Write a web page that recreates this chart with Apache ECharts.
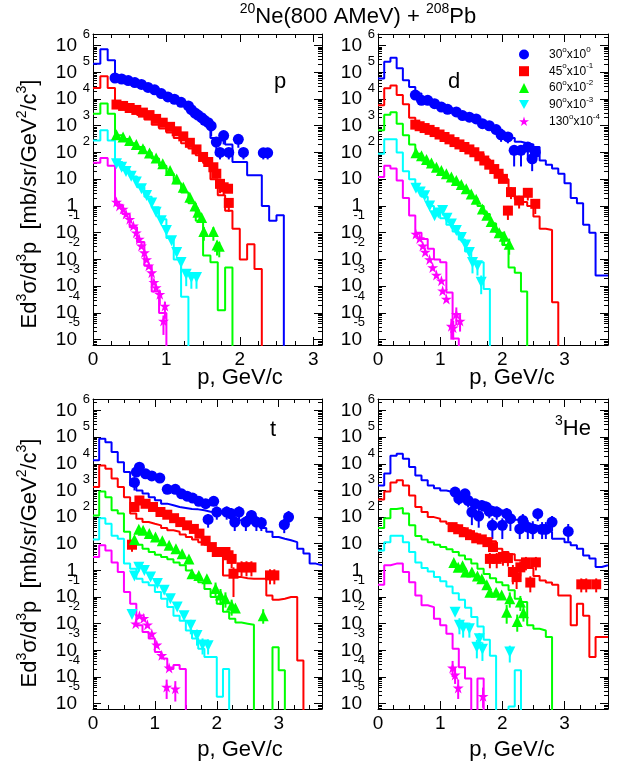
<!DOCTYPE html>
<html><head><meta charset="utf-8">
<script src="https://cdn.jsdelivr.net/npm/echarts@6/dist/echarts.min.js"></script>
<style>html,body{margin:0;padding:0;background:#fff}#c{width:630px;height:767px}</style>
</head><body><div id="c"></div>
<script>
// ================= DATA =================
const angleLabels = ['30', '45', '60', '90', '130'];
const scaleExps = ['0', '-1', '-2', '-3', '-4'];
const panelLabels = ['p', 'd', 't', '3He'];
const xTickLabels = [0, 1, 2, 3];
const binWidth = 0.1; // GeV/c, histograms start at p = 0; 0 = empty bin

// ---- protons (p) : model histograms ----
const simP30 = [2.1e5, 7.2e5, 2.8e5, 7.1e4, 5.2e4, 4.2e4, 3.3e4, 2.6e4, 2.0e4, 1.5e4, 1.1e4, 8.3e3, 6.0e3, 4.0e3, 2.5e3, 1.4e3, 350, 280, 200, 44, 44, 14, 14, 1.0, 0.28, 0.45];
const simP45 = [2.6e4, 7.1e4, 2.6e4, 5.8e3, 4.8e3, 3.5e3, 2.5e3, 1.7e3, 1.1e3, 790, 560, 350, 220, 140, 79, 40, 10, 2.5, 0.66, 0.14, 0.01, 0.037, 0.0044];
const simP60 = [2.8e3, 6.8e3, 2.8e3, 440, 320, 220, 160, 100, 60, 32, 16, 7.1, 3.2, 1.26, 0.28, 0.014, 0.0079, 1.26e-4, 0.005];
const simP90 = [280, 680, 280, 44, 22, 12.6, 5.0, 2.2, 0.89, 0.32, 0.063, 0.01, 4e-4];
const simP130 = [41, 62, 32, 1.12, 0.5, 0.16, 0.045, 0.0058, 6.3e-4, 1e-4];
// ---- protons : measured points [p, value] and error bars [p, low, high] ----
const datP30 = [[0.30,6.1e4],[0.39,5.6e4],[0.48,4.9e4],[0.57,4.1e4],[0.66,3.5e4],[0.75,2.7e4],[0.84,2.2e4],[0.93,1.6e4],[1.02,1.2e4],[1.11,9.8e3],[1.20,7.5e3],[1.30,5.5e3],[1.34,4.0e3],[1.39,3.0e3],[1.43,2.5e3],[1.48,2.0e3],[1.52,1.6e3],[1.57,1.3e3],[1.61,980],[1.68,245],[1.73,100],[1.78,430],[1.85,100],[1.98,310],[2.05,100],[2.32,97],[2.38,97]];
const datP45 = [[0.32,6.2e3],[0.41,5.5e3],[0.50,4.6e3],[0.59,3.9e3],[0.68,3.1e3],[0.77,2.5e3],[0.86,1.8e3],[0.95,1.3e3],[1.05,910],[1.14,620],[1.23,400],[1.32,230],[1.41,130],[1.50,68],[1.57,44],[1.64,28],[1.68,16],[1.73,6.7],[1.78,5.0],[1.84,4.4],[1.85,1.3]];
const datP60 = [[0.32,460],[0.41,380],[0.50,280],[0.59,200],[0.68,138],[0.77,95],[0.86,62],[0.95,38],[1.05,21],[1.14,10.2],[1.23,5.0],[1.32,2.1],[1.39,1.0],[1.43,0.58],[1.48,0.37],[1.51,0.11],[1.64,0.11],[1.69,0.035],[1.72,0.031]];
const datP90 = [[0.32,38],[0.39,28],[0.45,19.5],[0.52,13],[0.59,7.8],[0.66,4.4],[0.73,2.45],[0.80,1.3],[0.86,0.58],[0.93,0.28],[1.0,0.12],[1.07,0.05],[1.14,0.018],[1.20,0.0077],[1.27,0.0028],[1.34,0.0021],[1.41,0.0021]];
const datP130 = [[0.32,1.4],[0.36,1.0],[0.41,0.77],[0.45,0.5],[0.50,0.32],[0.55,0.18],[0.59,0.10],[0.63,0.058],[0.66,0.032],[0.70,0.018],[0.73,0.010],[0.76,0.0058],[0.80,0.0032],[0.83,0.0014],[0.86,8.9e-4],[0.91,5e-4],[0.98,1.8e-4],[0.96,5e-5]];
const errP30 = [[1.61,400,1.2e3],[1.68,78,330],[1.73,55,130],[1.78,200,560],[1.85,55,130],[1.98,150,400],[2.05,55,130],[2.32,55,125],[2.38,55,125]];
const errP45 = [[1.73,3.0,9],[1.78,2.5,6.5],[1.85,0.6,1.8]];
const errP60 = [[1.51,0.05,0.16],[1.64,0.05,0.16],[1.69,0.014,0.05],[1.72,0.012,0.045]];
const errP90 = [[1.20,0.003,0.012],[1.27,0.001,0.004],[1.34,8e-4,0.003],[1.41,8e-4,0.003]];
const errP130 = [[0.91,2e-4,7e-4],[0.98,6e-5,2.6e-4],[0.96,1.5e-5,8e-5]];

// ---- deuterons (d) ----
const simD30 = [5.8e4, 2.5e5, 3.5e5, 1.4e5, 5.0e4, 2.8e4, 1.6e4, 1.1e4, 8.9e3, 7.1e3, 5.6e3, 4.5e3, 3.5e3, 2.8e3, 2.2e3, 1.8e3, 1.4e3, 1.1e3, 890, 710, 500, 350, 250, 220, 200, 160, 50, 35, 25, 16, 7.1, 2.0, 1.26, 0.2, 0.1, 0.0025, 0.0025];
const simD45 = [5.8e3, 2.5e4, 3.2e4, 1.4e4, 6.3e3, 2.0e3, 1.0e3, 790, 630, 500, 400, 320, 250, 200, 160, 110, 89, 56, 28, 18, 10, 3.2, 1.8, 1.4, 1.0, 0.4, 0.14, 0.126, 2.5e-4];
const simD60 = [680, 2.6e3, 3.2e3, 1.2e3, 440, 200, 89, 50, 32, 22, 16, 11, 7.9, 5.0, 3.5, 2.0, 1.0, 0.5, 0.22, 0.1, 0.035, 0.005, 0.0032, 6.3e-4];
const simD90 = [89, 310, 310, 100, 20, 10, 4.5, 2.2, 1.0, 0.56, 0.35, 0.2, 0.11, 0.056, 0.02, 0.0078, 0.0078, 7.9e-4];
const simD130 = [12, 32, 25, 8.9, 2.0, 0.44, 0.1, 0.058, 0.025, 0.01, 0.0078, 5.8e-4, 1.1e-5];
const datD30 = [[0.60,1.4e4],[0.70,8.9e3],[0.80,8.9e3],[0.91,6.7e3],[1.02,5.0e3],[1.12,4.1e3],[1.26,3.3e3],[1.36,2.4e3],[1.47,2.1e3],[1.58,1.8e3],[1.68,1.2e3],[1.79,1.0e3],[1.90,720],[1.98,460],[2.09,380],[2.19,120],[2.30,120],[2.41,160],[2.48,58],[2.53,102]];
const datD45 = [[0.60,1.1e3],[0.67,960],[0.75,820],[0.83,700],[0.91,580],[0.99,470],[1.07,380],[1.15,310],[1.23,245],[1.31,200],[1.39,160],[1.47,130],[1.55,102],[1.63,72],[1.71,50],[1.79,35],[1.87,24],[1.94,16],[2.01,10.3],[2.14,3.3],[2.09,0.67],[2.27,1.6],[2.41,3.1],[2.53,1.2]];
const datD60 = [[0.61,98],[0.70,75],[0.78,55],[0.86,40],[0.94,28],[1.02,21],[1.10,16],[1.18,12],[1.26,8.9],[1.34,6.3],[1.42,4.4],[1.50,2.8],[1.58,1.8],[1.68,0.77],[1.75,0.45],[1.82,0.26],[1.88,0.16],[1.95,0.10],[2.03,0.073],[2.11,0.037]];
const datD90 = [[0.61,4.6],[0.68,3.3],[0.75,2.4],[0.83,1.0],[0.91,0.43],[0.97,0.55],[1.04,0.67],[1.11,0.35],[1.18,0.21],[1.26,0.12],[1.34,0.066],[1.41,0.035],[1.47,0.018],[1.52,0.0077],[1.60,0.0058],[1.66,0.0014]];
const datD130 = [[0.61,0.089],[0.67,0.061],[0.72,0.032],[0.76,0.019],[0.83,0.010],[0.88,0.005],[0.94,0.0026],[1.02,0.0016],[1.04,6.7e-4],[1.10,3.3e-4],[1.18,3.2e-5],[1.21,2.8e-5],[1.26,8.9e-5],[1.32,5e-5]];
const errD30 = [[1.98,250,600],[2.09,220,500],[2.19,30,180],[2.30,30,180],[2.41,50,230],[2.48,20,85],[2.53,40,150]];
const errD45 = [[2.09,0.3,1.0],[2.14,1.8,5],[2.27,0.8,2.4],[2.41,1.6,4.5],[2.53,0.5,1.8]];
const errD60 = [[2.03,0.035,0.11],[2.11,0.015,0.06]];
const errD90 = [[1.52,0.003,0.012],[1.60,0.0025,0.009],[1.66,5e-4,0.0025]];
const errD130 = [[1.18,1e-5,6e-5],[1.21,1e-5,5e-5],[1.26,3.5e-5,1.6e-4],[1.32,2e-5,9e-5]];

// ---- tritons (t) ----
const simT30 = [1.35e4, 8.7e4, 6.5e4, 2.8e4, 1.15e4, 4.9e3, 1.55e3, 1.0e3, 760, 560, 430, 320, 280, 240, 220, 200, 195, 180, 160, 155, 135, 115, 91, 76, 65, 56, 49, 39, 28, 18, 15.5, 13.5, 11.5, 6.5, 4.3, 1.8, 1.55];
const simT45 = [1.35e3, 8.7e3, 6.5e3, 2.8e3, 1.35e3, 560, 135, 87, 65, 56, 49, 39, 32, 28, 22, 18, 14.5, 11.5, 9.1, 6.9, 4.9, 0.65, 0.56, 0.56, 0.51, 0.49, 0.49, 0.49, 0.115, 0.079, 0.087, 0.1, 0.1, 4.2e-4];
const simT60 = [115, 910, 560, 180, 135, 28, 11.5, 9.1, 6.5, 4.9, 3.9, 3.2, 2.6, 2.0, 1.55, 1.0, 0.65, 0.36, 0.2, 0.1, 0.056, 0.028, 0.0155, 0.011, 0.01, 0.0091, 0, 0, 0, 0.0013, 1.8e-4];
const simT90 = [14.5, 91, 56, 20, 15.5, 1.8, 1.15, 0.49, 0.36, 0.28, 0.155, 0.087, 0.042, 0.02, 0.013, 0.0056, 0.0028, 0.00115, 5.6e-4, 5.6e-4, 1.8e-5, 2.0e-4];
const simT130 = [3.2, 8.7, 5.6, 2.0, 0.87, 0.155, 0.056, 0.0087, 0.0049, 0.0028, 8.7e-4, 4.9e-4, 2.0e-4, 2.8e-4, 2.0e-4];
const datT30 = [[0.67,2.0e3],[0.70,4.9e3],[0.75,7.5e3],[0.85,4.2e3],[0.95,3.5e3],[1.08,2.9e3],[1.20,1.1e3],[1.33,1.1e3],[1.43,750],[1.52,610],[1.61,520],[1.71,390],[1.82,320],[1.95,390],[1.86,82],[2.0,155],[2.16,155],[2.23,135],[2.29,65],[2.36,155],[2.47,65],[2.56,115],[2.64,65],[2.72,62],[3.09,52],[3.16,100]];
const datT45 = [[0.63,9.2],[0.67,240],[0.75,420],[0.85,316],[0.97,240],[1.09,155],[1.20,123],[1.31,91],[1.41,65],[1.52,49],[1.63,36],[1.72,24],[1.82,13],[1.92,7.5],[2.0,4.9],[2.14,4.9],[2.19,3.7],[2.24,2.7],[2.27,0.75],[2.40,1.3],[2.48,1.3],[2.56,1.3],[2.86,0.65],[2.93,0.65]];
const datT60 = [[0.67,14.5],[0.74,35],[0.81,32],[0.91,24],[1.01,18],[1.12,13],[1.23,8.7],[1.34,6.5],[1.44,4.2],[1.55,2.7],[1.60,0.75],[1.71,0.65],[1.84,0.49],[1.98,0.21],[2.06,0.12],[2.14,0.087],[2.24,0.049],[2.30,0.039],[2.75,0.020]];
const datT90 = [[0.63,0.022],[0.67,0.61],[0.74,1.3],[0.83,1.0],[0.93,0.56],[1.04,0.32],[1.15,0.18],[1.25,0.087],[1.36,0.042],[1.47,0.020],[1.58,0.0087],[1.68,0.0036],[1.77,0.0016],[1.86,0.0015]];
const datT130 = [[0.69,0.010],[0.75,0.020],[0.82,0.016],[0.88,0.0091],[0.95,0.0042],[1.03,0.0016],[1.11,6.5e-4],[1.23,2.2e-4],[1.19,4.2e-5],[1.33,3.6e-5]];
const errT30 = [[0.67,1.0e3,3.0e3],[1.86,40,130],[2.0,80,250],[2.16,80,250],[2.23,60,220],[2.29,30,110],[2.36,80,250],[2.47,30,110],[2.56,60,180],[2.64,30,110],[2.72,30,100],[3.09,25,85],[3.16,50,170]];
const errT45 = [[0.63,5,14],[2.14,2.5,7.5],[2.19,1.8,6],[2.24,1.2,4.5],[2.27,0.1,1.3],[2.40,0.6,2.2],[2.48,0.6,2.2],[2.56,0.6,2.2],[2.86,0.3,1.1],[2.93,0.3,1.1]];
const errT60 = [[1.98,0.1,0.35],[2.06,0.05,0.2],[2.14,0.04,0.15],[2.24,0.02,0.08],[2.75,0.01,0.035]];
const errT90 = [[1.58,0.004,0.014],[1.68,0.0015,0.006],[1.77,7e-4,0.0028],[1.86,7e-4,0.0026]];
const errT130 = [[1.19,1.5e-5,8e-5],[1.33,1.2e-5,7e-5]];

// ---- helium-3 (3He) ----
const simH30 = [1.55e3, 4.3e3, 2.0e4, 2.4e4, 1.55e4, 7.6e3, 3.6e3, 2.4e3, 1.55e3, 1.2e3, 1.0e3, 870, 690, 510, 430, 350, 290, 260, 220, 180, 126, 100, 79, 63, 52, 45, 43, 28, 15.5, 15.5, 11.5, 8.7, 6.5, 3.6, 2.8, 1.35, 1.55];
const simH45 = [460, 910, 2.0e3, 2.4e3, 1.55e3, 650, 240, 155, 100, 87, 69, 56, 49, 39, 32, 24, 19.5, 15.5, 12.3, 6.5, 4.9, 4.0, 2.4, 2.2, 1.23, 0.62, 0.42, 0.35, 0.29, 0.115, 0.115, 0.0087, 0.056, 0.02, 5.6e-4, 0.0032, 0.0032];
const simH60 = [39, 91, 200, 220, 135, 49, 19.5, 14.5, 11.5, 9.1, 7.6, 6.2, 4.9, 3.6, 2.6, 1.8, 1.15, 0.74, 0.51, 0.36, 0.28, 0.18, 0.087, 0.065, 0.0087, 0.0065, 0.0056, 0.0032];
const simH90 = [5.6, 11.5, 20, 20, 11.5, 4.9, 2.0, 1.23, 0.91, 0.56, 0.39, 0.25, 0.14, 0.079, 0.04, 0.018, 0.0079, 0.0025, 6.3e-4, 0, 0, 7.9e-6, 1.8e-4];
const simH130 = [0.29, 1.55, 1.8, 1.8, 0.87, 0.36, 0.115, 0.049, 0.042, 0.0155, 0.0087, 0.0042, 0.00115, 2.3e-4, 8.7e-5, 0, 8.7e-5];
const datH30 = [[1.24,870],[1.30,490],[1.40,750],[1.45,420],[1.51,155],[1.56,316],[1.62,110],[1.67,275],[1.74,240],[1.79,163],[1.84,49],[1.91,155],[2.0,49],[2.07,134],[2.13,87],[2.28,36],[2.33,75],[2.41,42],[2.49,36],[2.57,134],[2.64,35],[2.70,35],[2.80,65],[3.06,29]];
const datH45 = [[1.20,42],[1.29,35],[1.38,27],[1.48,21],[1.58,16],[1.67,14.5],[1.76,11.5],[1.85,7.5],[1.80,2.7],[1.91,2.7],[2.01,3.2],[2.09,2.9],[2.17,0.87],[2.23,0.56],[2.29,1.3],[2.38,2.0],[2.45,0.35],[2.54,2.0],[3.27,0.30],[3.35,0.30],[3.51,0.30]];
const datH60 = [[1.22,2.0],[1.29,1.3],[1.36,1.5],[1.41,0.87],[1.51,0.87],[1.60,0.61],[1.67,0.49],[1.75,0.29],[1.80,0.15],[1.90,0.15],[1.99,0.12],[2.12,0.087],[2.07,0.027],[2.24,0.012],[2.29,0.065],[2.34,0.026]];
const datH90 = [[1.24,0.027],[1.31,0.0087],[1.37,0.0069],[1.47,0.0065],[1.59,0.0013],[1.63,0.0027],[1.68,0.0011],[2.12,8.7e-4]];
const datH130 = [[1.20,2.2e-4],[1.24,1.2e-4],[1.29,3.9e-5],[1.69,1.9e-5]];
const errH30 = [[1.24,500,1.3e3],[1.30,280,800],[1.40,450,1.1e3],[1.45,230,650],[1.51,50,300],[1.56,180,480],[1.62,40,200],[1.67,160,420],[1.74,130,380],[1.79,90,260],[1.84,15,90],[1.91,80,250],[2.0,15,90],[2.07,70,220],[2.13,30,150],[2.28,15,70],[2.33,35,130],[2.41,15,75],[2.49,15,70],[2.57,70,210],[2.64,15,65],[2.70,15,65],[2.80,30,110],[3.06,12,55]];
const errH45 = [[1.80,1.2,4.5],[1.91,1.2,4.5],[2.01,1.5,5],[2.09,1.4,4.8],[2.17,0.3,1.6],[2.23,0.2,1.0],[2.29,0.6,2.2],[2.38,1.0,3.2],[2.45,0.15,0.6],[2.54,1.0,3.2],[3.27,0.15,0.5],[3.35,0.15,0.5],[3.51,0.15,0.5]];
const errH60 = [[2.07,0.01,0.05],[2.12,0.04,0.15],[2.24,0.005,0.022],[2.29,0.03,0.11],[2.34,0.012,0.045]];
const errH90 = [[1.31,0.004,0.016],[1.37,0.003,0.012],[1.47,0.003,0.011],[1.59,5e-4,0.0025],[1.63,0.0012,0.0045],[1.68,4e-4,0.002],[2.12,3.5e-4,0.0015]];
const errH130 = [[1.20,1e-4,4e-4],[1.24,5.5e-5,2.4e-4],[1.29,1.5e-5,8e-5],[1.69,7e-6,4e-5]];

// ================= LAYOUT / STYLE =================
const FF = '"Liberation Sans", Arial, Helvetica, sans-serif';
const YMIN = 6.3e-6, YMAX = 2.7e6;
const FLOOR = 1e-12;
const colors = ['#0000ff', '#ff0000', '#00ff00', '#00ffff', '#ff00ff'];
const INV_TRI = 'path://M0,0 L10,0 L5,9 Z';
const STAR = 'path://M10,0 L12.25,6.91 L19.51,6.91 L13.63,11.18 L15.88,18.09 L10,13.82 L4.12,18.09 L6.37,11.18 L0.49,6.91 L7.75,6.91 Z';
const symbols = ['circle', 'rect', 'triangle', INV_TRI, STAR];
const symSizes = [11, 10, 11, 11, 11];
const seriesNames = angleLabels.map((a, k) => a + '°x10^' + scaleExps[k]);

const panels = [
  { grid: { left: 93, top: 34, width: 229, height: 311 }, xMax: 3.12, sims: [simP30, simP45, simP60, simP90, simP130], dats: [datP30, datP45, datP60, datP90, datP130], errs: [errP30, errP45, errP60, errP90, errP130] },
  { grid: { left: 378, top: 34, width: 230, height: 311 }, xMax: 3.7, sims: [simD30, simD45, simD60, simD90, simD130], dats: [datD30, datD45, datD60, datD90, datD130], errs: [errD30, errD45, errD60, errD90, errD130] },
  { grid: { left: 93, top: 399, width: 229, height: 310 }, xMax: 3.7, sims: [simT30, simT45, simT60, simT90, simT130], dats: [datT30, datT45, datT60, datT90, datT130], errs: [errT30, errT45, errT60, errT90, errT130] },
  { grid: { left: 378, top: 399, width: 230, height: 310 }, xMax: 3.7, sims: [simH30, simH45, simH60, simH90, simH130], dats: [datH30, datH45, datH60, datH90, datH130], errs: [errH30, errH45, errH60, errH90, errH130] }
];

// tick / label positions (axis decoration only)
const yDecades = []; for (let n = -5; n <= 6; n++) yDecades.push(Number('1e' + n));
const yMinors = [];
for (let n = -6; n <= 6; n++) for (let m = 2; m <= 9; m++) { const v = Number(m + 'e' + n); if (v > YMIN && v < YMAX) yMinors.push(v); }
// exponents are drawn slightly above their decade tick, as ROOT does
const EXP_UP_POS = Math.pow(10, 0.40), EXP_UP_NEG = Math.pow(10, 0.63);
const expPosAt = [2, 3, 4, 5, 6].map(n => Number('1e' + n) * EXP_UP_POS);
const expNegAt = [-5, -4, -3, -2, -1].map(n => Number('1e' + n) * EXP_UP_NEG);

function histData(vals, xMax) {
  const pts = [];
  for (let i = 0; i < vals.length; i++) pts.push([+(i * binWidth).toFixed(2), vals[i] > 0 ? vals[i] : FLOOR]);
  const end = +(vals.length * binWidth).toFixed(2);
  const last = vals[vals.length - 1];
  pts.push([Math.min(end, xMax), last > 0 ? last : FLOOR]);
  if (end < xMax - 1e-6) pts.push([end, FLOOR]);
  return pts;
}

const lineBlack = { color: '#000', width: 1 };
const grids = [], xAxes = [], yAxes = [], series = [];
panels.forEach((P, pi) => {
  grids.push(Object.assign({ containLabel: false, outerBoundsMode: 'none' }, P.grid));
  const xMajor = xTickLabels.filter(v => v <= P.xMax);
  const xMinor = [];
  for (let q = 0.25; q < P.xMax - 1e-9; q += 0.25) if (Math.abs(q - Math.round(q)) > 1e-9) xMinor.push(+q.toFixed(2));
  const xBase = { gridIndex: pi, type: 'value', min: 0, max: P.xMax, splitLine: { show: false }, axisPointer: { show: false } };
  xAxes.push(Object.assign({}, xBase, { position: 'bottom', axisLine: { show: true, onZero: false, lineStyle: lineBlack },
    axisTick: { show: true, inside: true, length: 8, customValues: xMajor, lineStyle: lineBlack },
    axisLabel: { show: true, customValues: xMajor, color: '#000', fontSize: 19, fontFamily: FF, margin: 5, showMinLabel: true, showMaxLabel: true } }));
  xAxes.push(Object.assign({}, xBase, { position: 'bottom', axisLine: { show: false, onZero: false },
    axisTick: { show: true, inside: true, length: 4, customValues: xMinor, lineStyle: lineBlack }, axisLabel: { show: false } }));
  xAxes.push(Object.assign({}, xBase, { position: 'top', axisLine: { show: true, onZero: false, lineStyle: lineBlack },
    axisTick: { show: true, inside: true, length: 8, customValues: xMajor, lineStyle: lineBlack }, axisLabel: { show: false } }));
  xAxes.push(Object.assign({}, xBase, { position: 'top', axisLine: { show: false, onZero: false },
    axisTick: { show: true, inside: true, length: 4, customValues: xMinor, lineStyle: lineBlack }, axisLabel: { show: false } }));

  const yBase = { gridIndex: pi, type: 'log', logBase: 10, min: YMIN, max: YMAX, splitLine: { show: false }, axisPointer: { show: false } };
  // 0: main left axis with decade ticks and the "10" / "1" part of the labels
  yAxes.push(Object.assign({}, yBase, { position: 'left', axisLine: { show: true, onZero: false, lineStyle: lineBlack },
    axisTick: { show: true, inside: true, length: 8, customValues: yDecades, lineStyle: lineBlack },
    axisLabel: { show: true, customValues: yDecades, margin: 16, color: '#000', fontSize: 19, fontFamily: FF, lineHeight: 20,
      showMinLabel: true, showMaxLabel: true,
      formatter: v => (Math.round(Math.log10(v)) === 0 ? '1' : '10') } }));
  // 1: minor ticks left
  yAxes.push(Object.assign({}, yBase, { position: 'left', axisLine: { show: false, onZero: false },
    axisTick: { show: true, inside: true, length: 4, customValues: yMinors, lineStyle: lineBlack }, axisLabel: { show: false } }));
  // 2,3: mirrored right axis
  yAxes.push(Object.assign({}, yBase, { position: 'right', axisLine: { show: true, onZero: false, lineStyle: lineBlack },
    axisTick: { show: true, inside: true, length: 8, customValues: yDecades, lineStyle: lineBlack }, axisLabel: { show: false } }));
  yAxes.push(Object.assign({}, yBase, { position: 'right', axisLine: { show: false, onZero: false },
    axisTick: { show: true, inside: true, length: 4, customValues: yMinors, lineStyle: lineBlack }, axisLabel: { show: false } }));
  // 4: positive exponents (superscripts), 5: negative exponents
  yAxes.push(Object.assign({}, yBase, { position: 'left', axisLine: { show: false, onZero: false }, axisTick: { show: false },
    axisLabel: { show: true, customValues: expPosAt, margin: 3, color: '#000', fontSize: 13, fontFamily: FF, lineHeight: 14,
      showMinLabel: true, showMaxLabel: true, formatter: v => String(Math.floor(Math.log10(v))) } }));
  yAxes.push(Object.assign({}, yBase, { position: 'left', axisLine: { show: false, onZero: false }, axisTick: { show: false },
    axisLabel: { show: true, customValues: expNegAt, margin: 13, color: '#000', fontSize: 13, fontFamily: FF, lineHeight: 14,
      showMinLabel: true, showMaxLabel: true, formatter: v => String(Math.floor(Math.log10(v))) } }));

  const xi = 4 * pi, yi = 6 * pi;
  P.sims.forEach((vals, k) => {
    series.push({ type: 'line', name: 'model ' + seriesNames[k], xAxisIndex: xi, yAxisIndex: yi,
      step: 'end', data: histData(vals, P.xMax), showSymbol: false, symbol: 'none', clip: true, silent: true,
      lineStyle: { color: colors[k], width: 2 }, itemStyle: { color: colors[k] }, z: 2 });
  });
  P.errs.forEach((rows, k) => {
    series.push({ type: 'custom', name: 'err ' + seriesNames[k], xAxisIndex: xi, yAxisIndex: yi, data: rows, clip: true, silent: true, z: 3,
      encode: { x: 0, y: [1, 2] },
      renderItem: function (params, api) {
        const a = api.coord([api.value(0), api.value(1)]);
        const b = api.coord([api.value(0), api.value(2)]);
        return { type: 'line', shape: { x1: a[0], y1: a[1], x2: b[0], y2: b[1] }, style: { stroke: colors[k], lineWidth: 2 } };
      } });
  });
  P.dats.forEach((pts, k) => {
    series.push({ type: 'scatter', name: seriesNames[k], xAxisIndex: xi, yAxisIndex: yi,
      data: pts, symbol: symbols[k], symbolSize: symSizes[k], clip: true,
      itemStyle: { color: colors[k], borderWidth: 0, opacity: 1 }, z: 4 });
  });
});

const supT = (fs, lh, pad) => ({ fontSize: fs, fontFamily: FF, fill: '#000', lineHeight: lh, padding: [0, 0, pad, 0] });
const txt = (fs, lh) => ({ fontSize: fs, fontFamily: FF, fill: '#000', lineHeight: lh });
const yTitle = '{t|Ed}{s|3}{t|σ/d}{s|3}{t|p  [mb/sr/GeV}{s|2}{t|/c}{s|3}{t|]}';
const richTitle = { t: txt(22, 26), s: supT(14, 26, 16) };
function gText(x, y, text, rot) {
  return { type: 'text', x: x, y: y, rotation: rot || 0, silent: true,
    style: { text: text, align: 'center', verticalAlign: 'middle', rich: richTitle, fill: '#000', fontFamily: FF, fontSize: 22 } };
}
const graphics = [
  gText(358, 17, '{s|20}{t|Ne(800 AMeV) + }{s|208}{t|Pb}'),
  gText(30, 204, yTitle, Math.PI / 2),
  gText(30, 563, yTitle, Math.PI / 2),
  gText(240, 378, '{t|p, GeV/c}'),
  gText(512, 378, '{t|p, GeV/c}'),
  gText(240, 750, '{t|p, GeV/c}'),
  gText(512, 750, '{t|p, GeV/c}'),
  gText(280, 82, '{t|' + panelLabels[0] + '}'),
  gText(454, 82, '{t|' + panelLabels[1] + '}'),
  gText(273, 430, '{t|' + panelLabels[2] + '}'),
  gText(573, 429, '{s|3}{t|He}')
];

const chart = echarts.init(document.getElementById('c'), null, { renderer: 'canvas' });
chart.setOption({
  animation: false,
  backgroundColor: '#fff',
  textStyle: { fontFamily: FF },
  grid: grids,
  xAxis: xAxes,
  yAxis: yAxes,
  legend: {
    data: seriesNames.map((n, k) => ({ name: n, icon: symbols[k] })),
    orient: 'vertical', left: 514, top: 40.5, itemWidth: 10, itemHeight: 10, itemGap: -1.3,
    symbolKeepAspect: true, selectedMode: false,
    formatter: function (name) { const parts = name.split('°x10^'); return '{f|' + parts[0] + '}{s|o}{t|x10}{s|' + parts[1] + '}'; },
    textStyle: { color: '#000', fontFamily: FF, fontSize: 12, lineHeight: 10,
      rich: { f: { fontSize: 12, fontFamily: FF, color: '#000', lineHeight: 10, padding: [0, 0, 0, 15] },
              t: { fontSize: 12, fontFamily: FF, color: '#000', lineHeight: 10 },
              s: { fontSize: 8, fontFamily: FF, color: '#000', lineHeight: 10, padding: [0, 0, 10, 0] } } }
  },
  graphic: graphics,
  series: series
});
</script></body></html>
